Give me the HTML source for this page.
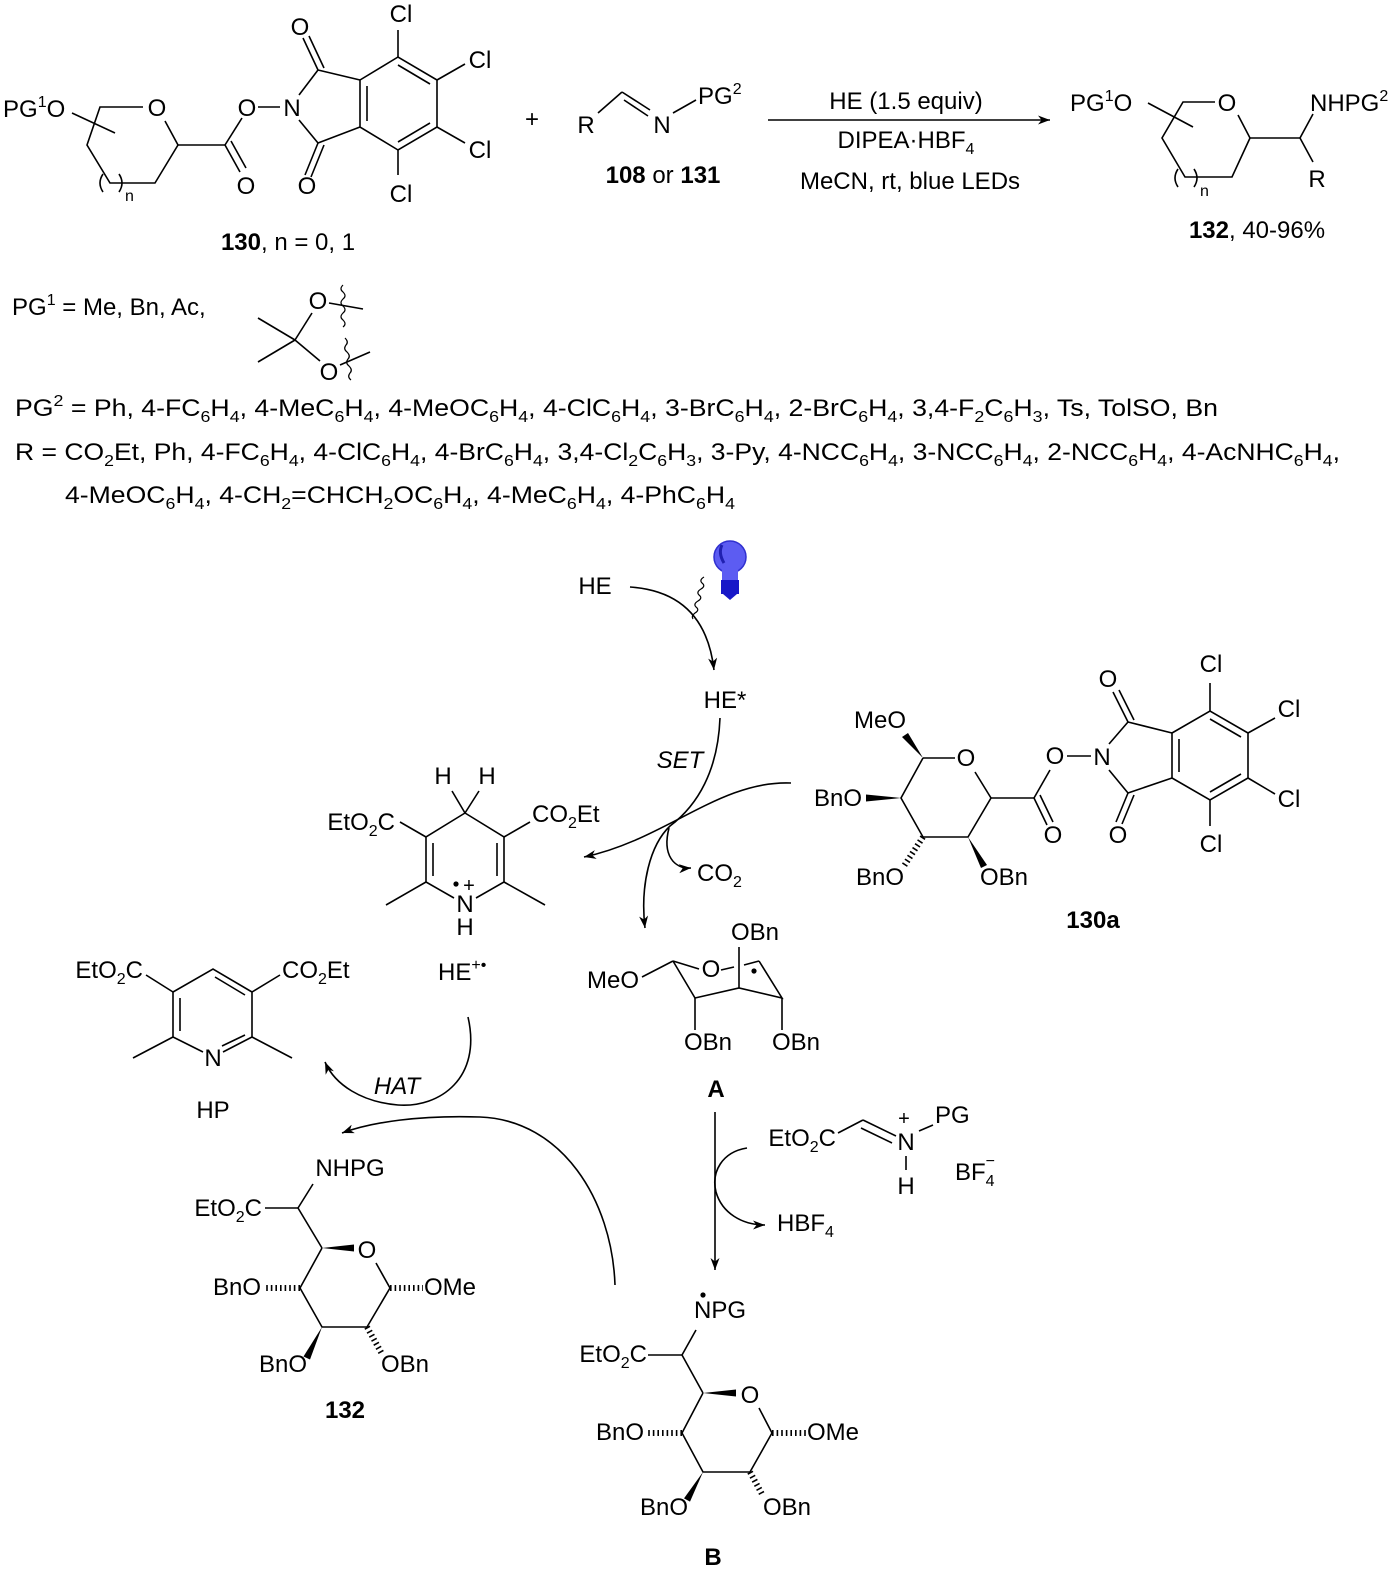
<!DOCTYPE html>
<html><head><meta charset="utf-8"><style>
html,body{margin:0;padding:0;background:#fff;}
svg{display:block}
text{font-family:"Liberation Sans",sans-serif;font-size:24px;fill:#000}
.m{text-anchor:middle}
.e{text-anchor:end}
.s{font-size:16px}
.b{font-weight:bold}
.i{font-style:italic}
line,path,polyline{stroke:#000;stroke-width:1.6;fill:none}
.w{fill:#000;stroke:none}
.h{stroke-width:6;stroke-dasharray:1.6,3}
</style></head><body>
<svg width="1400" height="1574" viewBox="0 0 1400 1574" xmlns="http://www.w3.org/2000/svg">
<defs>
<marker id="ar" markerUnits="userSpaceOnUse" markerWidth="14" markerHeight="10" refX="12" refY="4.5" orient="auto">
<path d="M0,0 L12,4.5 L0,9 L3.5,4.5 z" style="fill:#000;stroke:none"/>
</marker>
</defs>

<!-- ===== 130 ===== -->
<text x="3" y="117">PG<tspan class="s" dy="-10">1</tspan><tspan dy="10">O</tspan></text>
<line x1="72" y1="113" x2="115" y2="133"/>
<polyline points="143,107 100,107 87,145 110,183 155,183 178,145 165,121"/>
<path d="M103,174 q-6,9 0,18"/><path d="M119,174 q6,9 0,18"/>
<text x="125" y="201" class="s">n</text>
<text x="157" y="116" class="m">O</text>
<line x1="178" y1="145" x2="225" y2="145"/>
<line x1="225" y1="145" x2="242" y2="118"/>
<line x1="225" y1="145" x2="240" y2="172"/><line x1="231" y1="141" x2="246" y2="168"/>
<text x="247" y="116" class="m">O</text>
<text x="246" y="194" class="m">O</text>
<line x1="258" y1="107" x2="280" y2="107"/>
<text x="292" y="116" class="m">N</text>
<line x1="299" y1="95" x2="318" y2="70"/><line x1="299" y1="120" x2="318" y2="143"/>
<line x1="318" y1="70" x2="303" y2="38"/><line x1="324" y1="68" x2="309" y2="36"/>
<text x="300" y="35" class="m">O</text>
<line x1="318" y1="143" x2="305" y2="175"/><line x1="324" y1="145" x2="311" y2="177"/>
<text x="307" y="194" class="m">O</text>
<line x1="318" y1="70" x2="360" y2="80"/><line x1="318" y1="143" x2="360" y2="127"/>
<polygon points="360,80 398,57 437,80 437,127 398,150 360,127" style="fill:none;stroke:#000;stroke-width:1.6"/>
<line x1="367" y1="86" x2="367" y2="121"/><line x1="398" y1="65" x2="430" y2="84"/><line x1="430" y1="123" x2="398" y2="142"/>
<line x1="398" y1="57" x2="398" y2="30"/><line x1="437" y1="80" x2="465" y2="64"/><line x1="437" y1="127" x2="465" y2="143"/><line x1="398" y1="150" x2="398" y2="175"/>
<text x="401" y="22" class="m">Cl</text><text x="480" y="68" class="m">Cl</text><text x="480" y="158" class="m">Cl</text><text x="401" y="202" class="m">Cl</text>
<text x="288" y="250" class="m"><tspan class="b">130</tspan>, n = 0, 1</text>

<text x="532" y="127" class="m">+</text>
<text x="586" y="133" class="m">R</text>
<line x1="598" y1="113" x2="622" y2="92"/>
<line x1="622" y1="92" x2="650" y2="110"/><line x1="624" y1="100" x2="648" y2="116"/>
<text x="662" y="133" class="m">N</text>
<line x1="673" y1="113" x2="696" y2="100"/>
<text x="698" y="104">PG<tspan class="s" dy="-10">2</tspan></text>
<text x="663" y="183" class="m"><tspan class="b">108</tspan> or <tspan class="b">131</tspan></text>

<line x1="768" y1="120" x2="1050" y2="120" marker-end="url(#ar)"/>
<text x="906" y="109" class="m">HE (1.5 equiv)</text>
<text x="906" y="148" class="m">DIPEA·HBF<tspan class="s" dy="6">4</tspan></text>
<text x="910" y="189" class="m">MeCN, rt, blue LEDs</text>

<!-- ===== 132 product ===== -->
<text x="1070" y="111">PG<tspan class="s" dy="-10">1</tspan><tspan dy="10">O</tspan></text>
<line x1="1148" y1="103" x2="1193" y2="127"/>
<polyline points="1215,102 1183,102 1162,138 1185,177 1232,177 1250,138 1238,115"/>
<path d="M1178,169 q-6,9 0,18"/><path d="M1194,169 q6,9 0,18"/>
<text x="1200" y="196" class="s">n</text>
<text x="1227" y="111" class="m">O</text>
<line x1="1250" y1="138" x2="1300" y2="138"/>
<line x1="1300" y1="138" x2="1313" y2="114"/><line x1="1300" y1="138" x2="1313" y2="162"/>
<text x="1310" y="111">NHPG<tspan class="s" dy="-10">2</tspan></text>
<text x="1317" y="187" class="m">R</text>
<text x="1257" y="238" class="m"><tspan class="b">132</tspan>, 40-96%</text>

<text x="12" y="315">PG<tspan class="s" dy="-10">1</tspan><tspan dy="10"> = Me, Bn, Ac,</tspan></text>
<line x1="295" y1="340" x2="258" y2="318"/><line x1="295" y1="340" x2="258" y2="362"/>
<line x1="295" y1="340" x2="312" y2="313"/><line x1="295" y1="340" x2="320" y2="361"/>
<text x="318" y="309" class="m">O</text><text x="329" y="380" class="m">O</text>
<line x1="329" y1="303" x2="363" y2="309"/><line x1="340" y1="365" x2="370" y2="352"/>
<path d="M343,285 q-4,4 0,7 q4,4 0,7 q-4,4 0,7 q4,4 0,7 q-4,4 0,7 q4,4 0,7" style="stroke-width:1.2"/>
<path d="M345,338 q4,4 1,7 q-3,4 1,7 q4,4 1,7 q-3,4 1,7 q4,4 1,7 q-3,4 1,7" style="stroke-width:1.2"/>

<text x="15" y="416" textLength="1203" lengthAdjust="spacingAndGlyphs">PG<tspan class="s" dy="-10">2</tspan><tspan dy="10"> = Ph, 4-FC</tspan><tspan class="s" dy="6">6</tspan><tspan dy="-6">H</tspan><tspan class="s" dy="6">4</tspan><tspan dy="-6">, 4-MeC</tspan><tspan class="s" dy="6">6</tspan><tspan dy="-6">H</tspan><tspan class="s" dy="6">4</tspan><tspan dy="-6">, 4-MeOC</tspan><tspan class="s" dy="6">6</tspan><tspan dy="-6">H</tspan><tspan class="s" dy="6">4</tspan><tspan dy="-6">, 4-ClC</tspan><tspan class="s" dy="6">6</tspan><tspan dy="-6">H</tspan><tspan class="s" dy="6">4</tspan><tspan dy="-6">, 3-BrC</tspan><tspan class="s" dy="6">6</tspan><tspan dy="-6">H</tspan><tspan class="s" dy="6">4</tspan><tspan dy="-6">, 2-BrC</tspan><tspan class="s" dy="6">6</tspan><tspan dy="-6">H</tspan><tspan class="s" dy="6">4</tspan><tspan dy="-6">, 3,4-F</tspan><tspan class="s" dy="6">2</tspan><tspan dy="-6">C</tspan><tspan class="s" dy="6">6</tspan><tspan dy="-6">H</tspan><tspan class="s" dy="6">3</tspan><tspan dy="-6">, Ts,  TolSO, Bn</tspan></text>

<text x="15" y="460" textLength="1325" lengthAdjust="spacingAndGlyphs">R = CO<tspan class="s" dy="6">2</tspan><tspan dy="-6">Et, Ph, 4-FC</tspan><tspan class="s" dy="6">6</tspan><tspan dy="-6">H</tspan><tspan class="s" dy="6">4</tspan><tspan dy="-6">, 4-ClC</tspan><tspan class="s" dy="6">6</tspan><tspan dy="-6">H</tspan><tspan class="s" dy="6">4</tspan><tspan dy="-6">, 4-BrC</tspan><tspan class="s" dy="6">6</tspan><tspan dy="-6">H</tspan><tspan class="s" dy="6">4</tspan><tspan dy="-6">, 3,4-Cl</tspan><tspan class="s" dy="6">2</tspan><tspan dy="-6">C</tspan><tspan class="s" dy="6">6</tspan><tspan dy="-6">H</tspan><tspan class="s" dy="6">3</tspan><tspan dy="-6">, 3-Py, 4-NCC</tspan><tspan class="s" dy="6">6</tspan><tspan dy="-6">H</tspan><tspan class="s" dy="6">4</tspan><tspan dy="-6">, 3-NCC</tspan><tspan class="s" dy="6">6</tspan><tspan dy="-6">H</tspan><tspan class="s" dy="6">4</tspan><tspan dy="-6">, 2-NCC</tspan><tspan class="s" dy="6">6</tspan><tspan dy="-6">H</tspan><tspan class="s" dy="6">4</tspan><tspan dy="-6">, 4-AcNHC</tspan><tspan class="s" dy="6">6</tspan><tspan dy="-6">H</tspan><tspan class="s" dy="6">4</tspan><tspan dy="-6">,</tspan></text>

<text x="65" y="503" textLength="670" lengthAdjust="spacingAndGlyphs">4-MeOC<tspan class="s" dy="6">6</tspan><tspan dy="-6">H</tspan><tspan class="s" dy="6">4</tspan><tspan dy="-6">, 4-CH</tspan><tspan class="s" dy="6">2</tspan><tspan dy="-6">=CHCH</tspan><tspan class="s" dy="6">2</tspan><tspan dy="-6">OC</tspan><tspan class="s" dy="6">6</tspan><tspan dy="-6">H</tspan><tspan class="s" dy="6">4</tspan><tspan dy="-6">, 4-MeC</tspan><tspan class="s" dy="6">6</tspan><tspan dy="-6">H</tspan><tspan class="s" dy="6">4</tspan><tspan dy="-6">, 4-PhC</tspan><tspan class="s" dy="6">6</tspan><tspan dy="-6">H</tspan><tspan class="s" dy="6">4</tspan></text>

<!-- ===== Mechanism ===== -->
<text x="595" y="594" class="m">HE</text>
<path d="M630,587 Q705,592 714,670" marker-end="url(#ar)"/>
<path d="M704,577 q-5,3 -2,6 q4,3 -1,6 q-5,3 -2,6 q4,3 -1,6 q-5,3 -2,6 q4,3 -1,6 q-4,3 -2,6" style="stroke-width:1.2"/>
<circle cx="730" cy="557" r="16" style="fill:#5c5cf2;stroke:#3030d0;stroke-width:1.5"/>
<path d="M722,545 q-4,8 2,18" style="stroke:#2020b0;stroke-width:3"/>
<rect x="722" y="570" width="16" height="12" style="fill:#5c5cf2;stroke:none"/>
<rect x="721" y="580" width="18" height="14" style="fill:#1818c8;stroke:none"/>
<polygon points="723,594 737,594 730,600" style="fill:#1818c8"/>
<text x="725" y="708" class="m">HE*</text>
<text x="680" y="768" class="m i">SET</text>
<path d="M720,718 C718,770 698,805 670,826 C650,845 640,885 645,928" marker-end="url(#ar)"/>
<path d="M791,783 C720,780 665,840 584,857" marker-end="url(#ar)"/>
<path d="M669,828 C662,855 674,869 691,868" marker-end="url(#ar)"/>
<text x="697" y="881">CO<tspan class="s" dy="6">2</tspan></text>

<text x="443" y="784" class="m">H</text><text x="487" y="784" class="m">H</text>
<line x1="452" y1="791" x2="465" y2="813"/><line x1="479" y1="791" x2="465" y2="813"/>
<polyline points="465,813 426,837 426,882 454,898"/>
<polyline points="465,813 504,837 504,882 476,898"/>
<line x1="433" y1="843" x2="433" y2="876"/><line x1="497" y1="843" x2="497" y2="876"/>
<line x1="426" y1="882" x2="386" y2="905"/><line x1="504" y1="882" x2="545" y2="905"/>
<line x1="426" y1="837" x2="400" y2="822"/><line x1="504" y1="837" x2="530" y2="822"/>
<text x="395" y="830" class="e">EtO<tspan class="s" dy="6">2</tspan><tspan dy="-6">C</tspan></text>
<text x="532" y="822">CO<tspan class="s" dy="6">2</tspan><tspan dy="-6">Et</tspan></text>
<text x="465" y="912" class="m">N</text>
<circle cx="456" cy="884" r="2.6" class="w"/><text x="469" y="892" class="m" style="font-size:20px">+</text>
<text x="465" y="935" class="m">H</text>
<text x="438" y="980">HE<tspan class="s" dy="-10">+•</tspan></text>

<!-- 130a -->
<text x="880" y="728" class="m">MeO</text>
<polygon points="923,758 908,733 902,737" class="w"/>
<line x1="923" y1="758" x2="955" y2="758"/>
<text x="966" y="766" class="m">O</text>
<polyline points="975,772 991,798 968,837 923,837 901,798 923,758"/>
<polygon points="901,798 866,794.5 866,801.5" class="w"/>
<text x="838" y="806" class="m">BnO</text>
<line x1="923" y1="837" x2="904" y2="866" class="h"/>
<text x="880" y="885" class="m">BnO</text>
<polygon points="968,837 981,868 987,865" class="w"/>
<text x="1004" y="885" class="m">OBn</text>
<line x1="991" y1="798" x2="1034" y2="798"/>
<line x1="1034" y1="798" x2="1050" y2="770"/>
<line x1="1034" y1="798" x2="1047" y2="825"/><line x1="1040" y1="795" x2="1053" y2="822"/>
<text x="1055" y="764" class="m">O</text>
<text x="1053" y="843" class="m">O</text>
<line x1="1067" y1="756" x2="1091" y2="756"/>
<text x="1102" y="765" class="m">N</text>
<line x1="1109" y1="744" x2="1128" y2="722"/><line x1="1109" y1="770" x2="1128" y2="793"/>
<line x1="1128" y1="722" x2="1113" y2="692"/><line x1="1134" y1="720" x2="1119" y2="690"/>
<text x="1108" y="687" class="m">O</text>
<line x1="1128" y1="793" x2="1116" y2="822"/><line x1="1134" y1="795" x2="1122" y2="824"/>
<text x="1118" y="843" class="m">O</text>
<line x1="1128" y1="722" x2="1172" y2="733"/><line x1="1128" y1="793" x2="1172" y2="778"/>
<polygon points="1172,733 1210,711 1248,733 1248,778 1210,800 1172,778" style="fill:none;stroke:#000;stroke-width:1.6"/>
<line x1="1179" y1="739" x2="1179" y2="772"/><line x1="1210" y1="719" x2="1241" y2="737"/><line x1="1241" y1="774" x2="1210" y2="792"/>
<line x1="1210" y1="711" x2="1210" y2="683"/><line x1="1248" y1="733" x2="1275" y2="718"/><line x1="1248" y1="778" x2="1275" y2="794"/><line x1="1210" y1="800" x2="1210" y2="826"/>
<text x="1211" y="672" class="m">Cl</text><text x="1289" y="717" class="m">Cl</text><text x="1289" y="807" class="m">Cl</text><text x="1211" y="852" class="m">Cl</text>
<text x="1093" y="928" class="m b">130a</text>

<!-- A -->
<text x="613" y="988" class="m">MeO</text>
<line x1="642" y1="977" x2="673" y2="961"/>
<line x1="673" y1="961" x2="699" y2="969"/>
<text x="711" y="977" class="m">O</text>
<line x1="721" y1="970" x2="734" y2="967"/><line x1="744" y1="965" x2="759" y2="961"/>
<polyline points="673,961 695,998 739,988 782,998 759,961"/>
<line x1="739" y1="988" x2="739" y2="947"/>
<line x1="695" y1="998" x2="695" y2="1030"/><line x1="782" y1="998" x2="782" y2="1030"/>
<circle cx="754" cy="971" r="2.6" class="w"/>
<text x="755" y="940" class="m">OBn</text>
<text x="708" y="1050" class="m">OBn</text>
<text x="796" y="1050" class="m">OBn</text>
<text x="716" y="1097" class="m b">A</text>

<!-- HP -->
<text x="143" y="978" class="e">EtO<tspan class="s" dy="6">2</tspan><tspan dy="-6">C</tspan></text>
<text x="282" y="978">CO<tspan class="s" dy="6">2</tspan><tspan dy="-6">Et</tspan></text>
<line x1="146" y1="975" x2="173" y2="992"/><line x1="252" y1="992" x2="280" y2="975"/>
<polyline points="203,1052 173,1037 173,992 213,969 252,992 252,1037 223,1052"/>
<line x1="180" y1="998" x2="180" y2="1031"/><line x1="215" y1="977" x2="245" y2="995"/><line x1="245" y1="1035" x2="222" y2="1046"/>
<line x1="173" y1="1037" x2="133" y2="1058"/><line x1="252" y1="1037" x2="292" y2="1058"/>
<text x="213" y="1066" class="m">N</text>
<text x="213" y="1118" class="m">HP</text>

<path d="M468,1017 C482,1078 440,1108 398,1105 C362,1102 335,1085 325,1062" marker-end="url(#ar)"/>
<text x="397" y="1094" class="m i">HAT</text>
<path d="M615,1285 C612,1200 562,1120 480,1117 C420,1115 372,1122 342,1133" marker-end="url(#ar)"/>

<!-- 132 mechanism -->
<text x="350" y="1176" class="m">NHPG</text>
<text x="262" y="1216" class="e">EtO<tspan class="s" dy="6">2</tspan><tspan dy="-6">C</tspan></text>
<line x1="265" y1="1208" x2="298" y2="1208"/>
<line x1="298" y1="1208" x2="313" y2="1184"/>
<line x1="298" y1="1208" x2="322" y2="1248"/>
<polygon points="322,1248 354,1244.5 354,1251.5" class="w"/>
<text x="367" y="1258" class="m">O</text>
<polyline points="376,1263 390,1288 367,1327 322,1327 300,1288 322,1248"/>
<line x1="300" y1="1288" x2="264" y2="1288" class="h"/>
<text x="237" y="1295" class="m">BnO</text>
<line x1="390" y1="1288" x2="423" y2="1288" class="h"/>
<text x="424" y="1295">OMe</text>
<polygon points="322,1327 310,1359.5 303.5,1356.5" class="w"/>
<text x="283" y="1372" class="m">BnO</text>
<line x1="367" y1="1327" x2="382" y2="1354" class="h"/>
<text x="405" y="1372" class="m">OBn</text>
<text x="345" y="1418" class="m b">132</text>

<!-- A to B -->
<line x1="715" y1="1112" x2="715" y2="1270" marker-end="url(#ar)"/>
<path d="M747,1148 C722,1152 711,1172 716,1192 C722,1213 742,1225 765,1225" marker-end="url(#ar)"/>
<text x="777" y="1231">HBF<tspan class="s" dy="6">4</tspan></text>
<text x="836" y="1146" class="e">EtO<tspan class="s" dy="6">2</tspan><tspan dy="-6">C</tspan></text>
<line x1="838" y1="1133" x2="863" y2="1120"/>
<line x1="863" y1="1120" x2="896" y2="1136"/><line x1="861" y1="1128" x2="892" y2="1143"/>
<text x="906" y="1150" class="m">N</text>
<text x="904" y="1125" class="m" style="font-size:20px">+</text>
<line x1="919" y1="1131" x2="933" y2="1125"/>
<text x="935" y="1123">PG</text>
<line x1="906" y1="1156" x2="906" y2="1170"/>
<text x="906" y="1194" class="m">H</text>
<text x="955" y="1180">BF<tspan class="s" dy="6">4</tspan><tspan class="s" dx="-9" dy="-20">−</tspan></text>

<!-- B -->
<circle cx="703" cy="1295" r="2.6" class="w"/>
<text x="694" y="1318">NPG</text>
<text x="647" y="1362" class="e">EtO<tspan class="s" dy="6">2</tspan><tspan dy="-6">C</tspan></text>
<line x1="648" y1="1355" x2="682" y2="1355"/>
<line x1="682" y1="1355" x2="696" y2="1330"/>
<line x1="682" y1="1355" x2="703" y2="1393"/>
<polygon points="703,1393 736,1389.5 736,1396.5" class="w"/>
<text x="750" y="1403" class="m">O</text>
<polyline points="759,1408 772,1433 750,1472 703,1472 682,1433 703,1393"/>
<line x1="682" y1="1433" x2="648" y2="1433" class="h"/>
<text x="620" y="1440" class="m">BnO</text>
<line x1="772" y1="1433" x2="806" y2="1433" class="h"/>
<text x="807" y="1440">OMe</text>
<polygon points="703,1472 690,1501.6 684,1498.4" class="w"/>
<text x="664" y="1515" class="m">BnO</text>
<line x1="750" y1="1472" x2="763" y2="1496" class="h"/>
<text x="787" y="1515" class="m">OBn</text>
<text x="713" y="1565" class="m b">B</text>
</svg>
</body></html>
